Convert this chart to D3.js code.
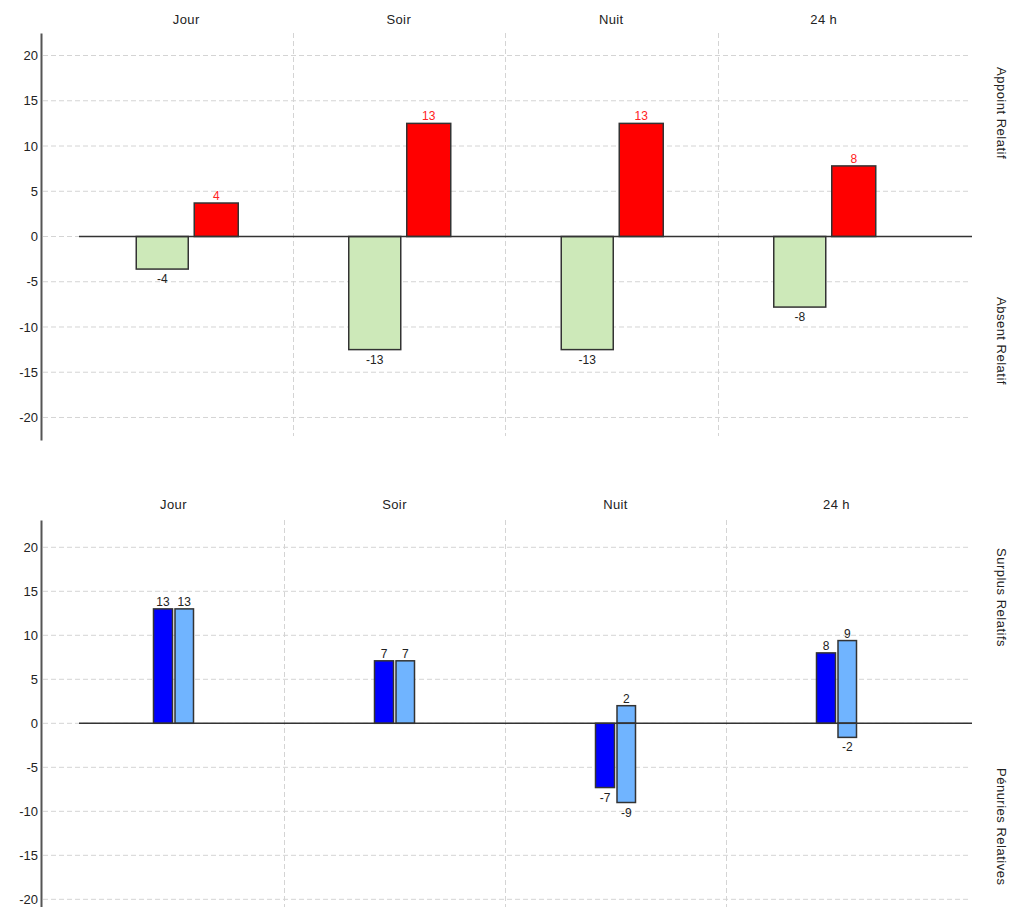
<!DOCTYPE html>
<html>
<head>
<meta charset="utf-8">
<script src="https://cdn.jsdelivr.net/npm/d3@7"></script>
<style>
  html, body { margin: 0; padding: 0; background: #fff; }
  svg { display: block; font-family: "Liberation Sans", Arial, sans-serif; }
</style>
</head>
<body>
<svg id="chart" width="1025" height="907"></svg>
<script>
// ---------- DATA ----------
const categories = ["Jour", "Soir", "Nuit", "24 h"];
const tickValues = [20, 15, 10, 5, 0, -5, -10, -15, -20];
const tickLabels = ["20", "15", "10", "5", "0", "-5", "-10", "-15", "-20"];

// Top chart
const absentRelatif = [-3.6, -12.5, -12.5, -7.8];   // green
const appointRelatif = [3.7, 12.5, 12.5, 7.8];      // red
const topSideLabels = ["Appoint Relatif", "Absent Relatif"];

// Bottom chart
const darkSeries = [13, 7.1, -7.3, 8];              // dark blue
const lightPos = [13, 7.1, 2, 9.4];                 // light blue, positive part
const lightNeg = [0, 0, -9, -1.6];                  // light blue, negative part
const bottomSideLabels = ["Surplus Relatifs", "Pénuries Relatives"];

// ---------- DRAW ----------
const svg = d3.select("#chart");
const fmt = v => (v < 0 ? "-" : "") + Math.abs(v).toFixed(0);

function panel(cfg) {
  const g = svg.append("g");
  const x = d3.scaleBand().domain(categories).range(cfg.xRange).paddingInner(0).paddingOuter(0);
  const y = d3.scaleLinear().domain(cfg.yDomain).range(cfg.yRange);

  // horizontal grid
  g.append("g").selectAll("line").data(tickValues).join("line")
    .attr("x1", 43).attr("x2", 970)
    .attr("y1", d => y(d)).attr("y2", d => y(d))
    .attr("stroke", "#d4d4d4").attr("stroke-width", 1).attr("stroke-dasharray", "5,3");

  // vertical separators
  g.append("g").selectAll("line").data(categories.slice(1)).join("line")
    .attr("x1", d => Math.round(x(d)) + 0.5).attr("x2", d => Math.round(x(d)) + 0.5)
    .attr("y1", cfg.sepTop).attr("y2", cfg.sepBottom)
    .attr("stroke", "#d4d4d4").attr("stroke-width", 1).attr("stroke-dasharray", "5,3");

  // axis
  const ax = g.append("g").attr("transform", "translate(41,0)")
    .call(d3.axisLeft(y).tickValues(tickValues).tickSize(0).tickPadding(3)
      .tickFormat((d, i) => tickLabels[i]));
  ax.select(".domain").attr("stroke", "#555").attr("stroke-width", 2);
  ax.selectAll("text").attr("font-size", 13).attr("fill", "#222")
    .attr("font-family", "'Liberation Sans', Arial, sans-serif");

  // column titles
  g.append("g").selectAll("text").data(categories).join("text")
    .attr("x", d => x(d) + x.bandwidth() / 2).attr("y", cfg.titleY)
    .attr("text-anchor", "middle").attr("font-size", 13).attr("fill", "#222")
    .attr("letter-spacing", "0.4px")
    .text(d => d);

  // side labels
  g.append("g").selectAll("text").data(cfg.sideLabels).join("text")
    .attr("transform", (d, i) => `translate(997,${cfg.sideY[i]}) rotate(90)`)
    .attr("font-size", 13).attr("fill", "#222").attr("letter-spacing", "0.5px")
    .text(d => d);

  return { g, x, y };
}

function bars(p, values, offset, width, fill, labelColor) {
  const { g, x, y } = p;
  const data = values.map((v, i) => ({ c: categories[i], v })).filter(d => d.v !== 0);
  g.append("g").selectAll("rect").data(data).join("rect")
    .attr("x", d => x(d.c) + x.bandwidth() / 2 + offset)
    .attr("width", width)
    .attr("y", d => Math.min(y(d.v), y(0)))
    .attr("height", d => Math.abs(y(d.v) - y(0)))
    .attr("fill", fill).attr("stroke", "#333").attr("stroke-width", 1.5);
  g.append("g").selectAll("text").data(data).join("text")
    .attr("x", d => x(d.c) + x.bandwidth() / 2 + offset + width / 2)
    .attr("y", d => d.v >= 0 ? y(d.v) - 3 : y(d.v) + 14)
    .attr("text-anchor", "middle").attr("font-size", 12).attr("fill", labelColor)
    .text(d => fmt(d.v));
}

function zeroLine(p) {
  p.g.append("line")
    .attr("x1", 79).attr("x2", 972)
    .attr("y1", p.y(0)).attr("y2", p.y(0))
    .attr("stroke", "#333").attr("stroke-width", 1.5);
}

// Top panel
const topPanel = panel({
  xRange: [80, 930], yDomain: [-22.5, 22.5], yRange: [440.1, 32.9],
  sepTop: 33, sepBottom: 436, titleY: 24,
  sideLabels: topSideLabels, sideY: [67, 297]
});
bars(topPanel, absentRelatif, -50, 52, "#cde9b9", "#222");
bars(topPanel, appointRelatif, 8, 44, "#ff0000", "#ff2222");
zeroLine(topPanel);

// Bottom panel
const botPanel = panel({
  xRange: [63, 947], yDomain: [-23.1, 23.1], yRange: [926.6, 520],
  sepTop: 520, sepBottom: 907, titleY: 509,
  sideLabels: bottomSideLabels, sideY: [548, 768]
});
bars(botPanel, darkSeries, -20, 19, "#0000ff", "#222");
bars(botPanel, lightPos, 1.5, 18.5, "#70b4ff", "#222");
bars(botPanel, lightNeg, 1.5, 18.5, "#70b4ff", "#222");
zeroLine(botPanel);
</script>
</body>
</html>
